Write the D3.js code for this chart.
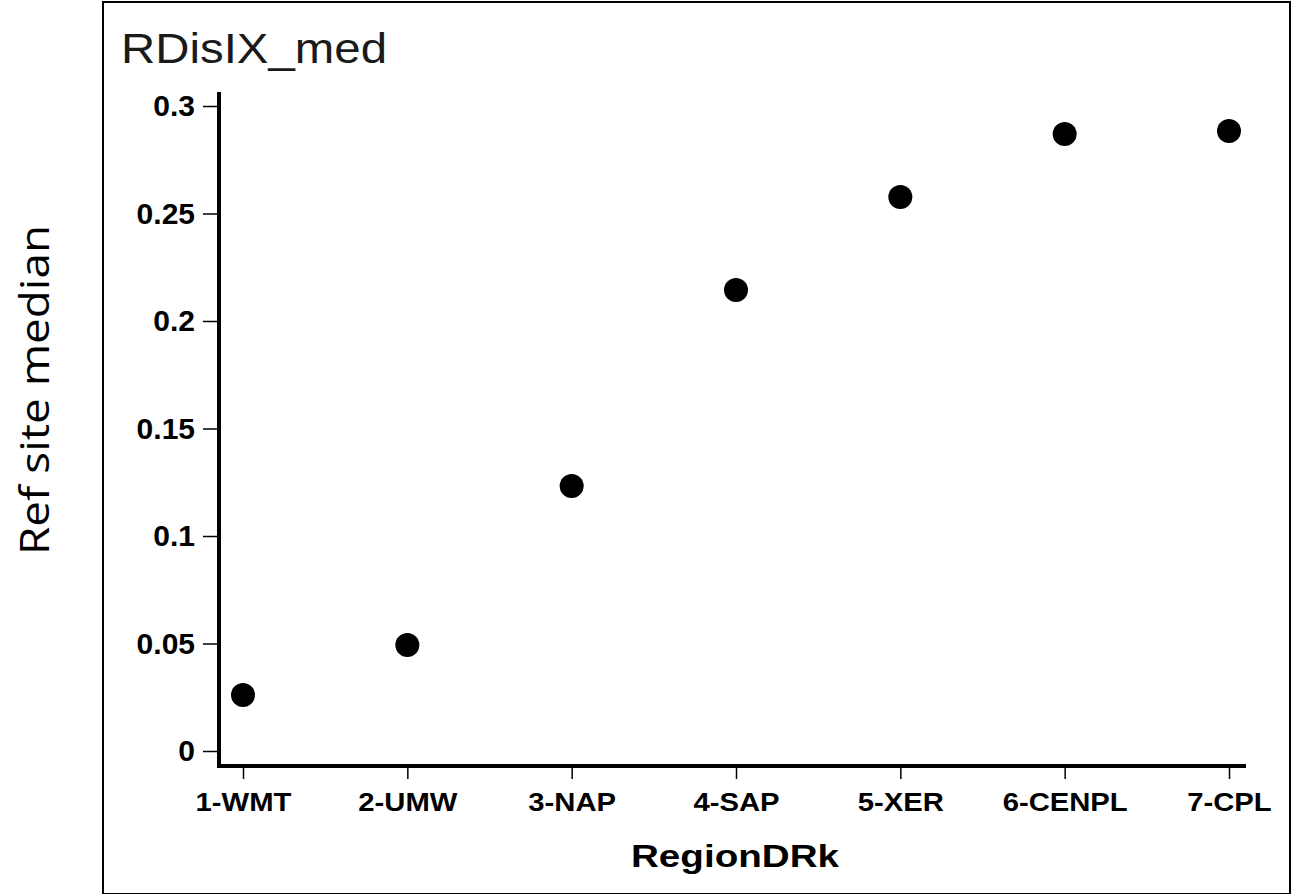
<!DOCTYPE html>
<html><head><meta charset="utf-8">
<script src="https://cdn.jsdelivr.net/npm/d3@7"></script>
<style>body{margin:0;background:#fff}svg{display:block}</style>
</head><body>
<svg id="c" width="1294" height="894"></svg>
<script>
const categories = ["1-WMT","2-UMW","3-NAP","4-SAP","5-XER","6-CENPL","7-CPL"];
const values = [0.026, 0.0493, 0.1233, 0.2144, 0.2577, 0.287, 0.2884];
const yTicks = [0, 0.05, 0.1, 0.15, 0.2, 0.25, 0.3];
const yTickLabels = ["0","0.05","0.1","0.15","0.2","0.25","0.3"];

const svg = d3.select("#c");
svg.append("rect").attr("x",103).attr("y",2).attr("width",1187).attr("height",892)
  .attr("fill","none").attr("stroke","#000").attr("stroke-width",2);

const x = d3.scalePoint().domain(categories).range([243,1229]);
const y = d3.scaleLinear().domain([0,0.3]).range([751,106]);

// axis lines
svg.append("line").attr("x1",219).attr("x2",219).attr("y1",92).attr("y2",768)
  .attr("stroke","#000").attr("stroke-width",4);
svg.append("line").attr("x1",217).attr("x2",1246).attr("y1",766).attr("y2",766)
  .attr("stroke","#000").attr("stroke-width",4);

const yAxis = d3.axisLeft(y).tickValues(yTicks).tickFormat((d,i)=>yTickLabels[i]).tickSize(15).tickPadding(8);
const gy = svg.append("g").attr("transform","translate(218,0)").call(yAxis);
gy.select(".domain").remove();
gy.selectAll(".tick line").attr("stroke-width",1.5);
gy.selectAll("text").attr("font-family","Liberation Sans, Arial, sans-serif")
  .attr("font-weight","bold").attr("font-size",30).attr("fill","#000");

const xAxis = d3.axisBottom(x).tickSize(12).tickPadding(14);
const gx = svg.append("g").attr("transform","translate(0,767)").call(xAxis);
gx.select(".domain").remove();
gx.selectAll(".tick line").attr("stroke-width",1.5);
gx.selectAll("text").attr("font-family","Liberation Sans, Arial, sans-serif")
  .attr("font-weight","bold").attr("font-size",25).attr("fill","#000")
  .attr("transform","scale(1.17,1)");

svg.append("g").selectAll("circle").data(values).join("circle")
  .attr("cx",(d,i)=>x(categories[i])).attr("cy",d=>y(d)).attr("r",12).attr("fill","#000");

svg.append("text").attr("x",121).attr("y",63)
  .attr("font-family","Liberation Sans, Arial, sans-serif").attr("font-size",42).attr("fill","#1a1a1a")
  .attr("textLength",266).attr("lengthAdjust","spacingAndGlyphs")
  .text("RDisIX_med");

svg.append("text").attr("x",735).attr("y",867).attr("text-anchor","middle")
  .attr("font-family","Liberation Sans, Arial, sans-serif").attr("font-weight","bold").attr("font-size",32)
  .attr("textLength",208).attr("lengthAdjust","spacingAndGlyphs")
  .text("RegionDRk");

svg.append("text").attr("transform","translate(49,390) rotate(-90)").attr("text-anchor","middle")
  .attr("font-family","Open Sans, Noto Sans, sans-serif").attr("font-size",40)
  .attr("textLength",330).attr("lengthAdjust","spacingAndGlyphs")
  .text("Ref site median");
</script>
</body></html>
